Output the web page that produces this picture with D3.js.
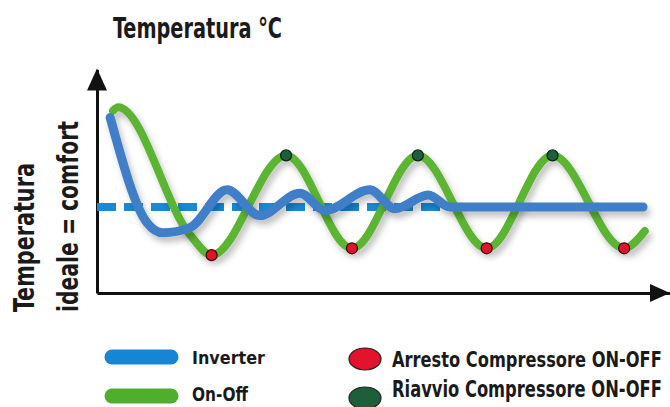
<!DOCTYPE html>
<html>
<head>
<meta charset="utf-8">
<script src="https://cdn.jsdelivr.net/npm/d3@7"></script>
<style>
  body { margin: 0; background: #ffffff; }
  svg { display: block; }
  text { font-family: "DejaVu Sans Condensed", "Liberation Sans Narrow", "DejaVu Sans", sans-serif; font-weight: bold; fill: #1a1a1a; }
</style>
</head>
<body>
<div id="chart"></div>
<script>
// Data (time units, temperature units; comfort level = 5)
var onOffT = [2.8, 3.7, 16.2, 20.0, 33.0, 44.5, 56.0, 68.0, 79.5, 92.0, 95.6];
var onOffV = [10.6, 10.8, 3.4, 2.2, 8.0, 2.6, 8.0, 2.6, 8.0, 2.6, 3.6];
var inverterT = [2.3, 8.7, 11.5, 16.2, 22.7, 28.4, 35.4, 39.8, 47.6, 52.0, 57.8, 61.6, 95.3];
var inverterV = [10.2, 4.1, 3.5, 3.8, 6.0, 4.5, 5.8, 4.8, 6.0, 4.9, 5.7, 5.0, 5.0];
var comfortLevel = 5;
var comfortEnd = 61.6;
var stopIdx = [3, 5, 7, 9];     // Arresto compressore (red)
var restartIdx = [4, 6, 8];     // Riavvio compressore (dark green)
var titleText = "Temperatura °C";
var yLabelLines = ["Temperatura", "ideale = comfort"];
var lineLegend = ["Inverter", "On-Off"];
var dotLegend = ["Arresto Compressore ON-OFF", "Riavvio Compressore ON-OFF"];

var width = 670, height = 407;
var greenColor = '#5cb431';
var blueColor = '#3f7ec7';
var dashColor = '#1a88d5';
var redColor = '#e3132b';
var darkGreenColor = '#1f5e3b';

var xScale = d3.scaleLinear().domain([0, 100]).range([97, 670]);
var yScale = d3.scaleLinear().domain([0, 13]).range([293, 69.4]);

var svg = d3.select("#chart").append("svg")
  .attr("width", width)
  .attr("height", height);

// Put a condensed label at (x,y): font size picked so the width is len,
// then stretched vertically to look like a font of size `size`.
function addLabel(s, x, y, len, size, rotate) {
  var t = svg.append("text").attr("font-size", 20).text(s);
  var w = t.node().getComputedTextLength();
  var fs = 20 * len / w;
  t.attr("font-size", fs);
  var tr = "translate(" + x + "," + y + ")" + (rotate ? "rotate(-90)" : "") + "scale(1," + (size / fs) + ")";
  t.attr("transform", tr);
  return t;
}

// shadow under the curves
var defs = svg.append("defs");
var f = defs.append("filter").attr("id", "shadow")
  .attr("x", "-10%").attr("y", "-10%").attr("width", "130%").attr("height", "140%");
f.append("feDropShadow").attr("dx", 3).attr("dy", 5).attr("stdDeviation", 3)
  .attr("flood-color", "#000").attr("flood-opacity", 0.25);

// axes (no ticks) with arrow heads
var xAxis = d3.axisBottom(xScale).ticks(0).tickSizeOuter(0);
var yAxis = d3.axisLeft(yScale).ticks(0).tickSizeOuter(0);
svg.append("g").attr("transform", "translate(0," + yScale(0) + ")").call(xAxis)
  .select(".domain").attr("stroke", "#111").attr("stroke-width", 3);
svg.append("g").attr("transform", "translate(" + xScale(0) + ",0)").call(yAxis)
  .select(".domain").attr("stroke", "#111").attr("stroke-width", 3);

var xr = xScale.range(), yr = yScale.range();
svg.append("path")
  .attr("d", "M" + (xr[1] - 20) + "," + (yr[0] - 9) + "L" + xr[1] + "," + yr[0] + "L" + (xr[1] - 20) + "," + (yr[0] + 9) + "Z")
  .attr("fill", "#111");
svg.append("path")
  .attr("d", "M" + (xr[0] - 10) + "," + (yr[1] + 21) + "L" + xr[0] + "," + (yr[1] - 1) + "L" + (xr[0] + 10) + "," + (yr[1] + 21) + "Z")
  .attr("fill", "#111");

// comfort dashed line
svg.append("line")
  .attr("x1", xScale(0)).attr("x2", xScale(comfortEnd))
  .attr("y1", yScale(comfortLevel)).attr("y2", yScale(comfortLevel))
  .attr("stroke", dashColor).attr("stroke-width", 8)
  .attr("stroke-dasharray", "19,8");

var line = d3.line()
  .x(function (d) { return xScale(d[0]); })
  .y(function (d) { return yScale(d[1]); })
  .curve(d3.curveMonotoneX);

var onOffData = onOffT.map(function (t, i) { return [t, onOffV[i]]; });
var inverterData = inverterT.map(function (t, i) { return [t, inverterV[i]]; });

svg.append("path").datum(onOffData)
  .attr("d", line)
  .attr("fill", "none").attr("stroke", greenColor).attr("stroke-width", 8)
  .attr("stroke-linecap", "round").attr("filter", "url(#shadow)");

svg.append("path").datum(inverterData)
  .attr("d", line)
  .attr("fill", "none").attr("stroke", blueColor).attr("stroke-width", 9)
  .attr("stroke-linecap", "round").attr("stroke-linejoin", "round")
  .attr("filter", "url(#shadow)");

// compressor markers
svg.selectAll("circle.stop").data(stopIdx).enter().append("circle")
  .attr("class", "stop")
  .attr("cx", function (i) { return xScale(onOffT[i]); })
  .attr("cy", function (i) { return yScale(onOffV[i]); })
  .attr("r", 5.5)
  .attr("fill", redColor).attr("stroke", "#3a0505").attr("stroke-width", 1.2);
svg.selectAll("circle.restart").data(restartIdx).enter().append("circle")
  .attr("class", "restart")
  .attr("cx", function (i) { return xScale(onOffT[i]); })
  .attr("cy", function (i) { return yScale(onOffV[i]); })
  .attr("r", 5.5)
  .attr("fill", darkGreenColor).attr("stroke", "#0c2416").attr("stroke-width", 1.2);

// title
addLabel(titleText, 113, 38, 169, 28, false);

// y label (two rotated lines)
addLabel(yLabelLines[0], 34, 312, 149, 29, true);
addLabel(yLabelLines[1], 78, 312, 191, 29, true);

// legend: lines
var lineLegendColors = ['#1685d3', '#4fae2d'];
var lineLegendY = [357, 396];
var lineLegendText = [{y: 364, size: 18, len: 73}, {y: 401, size: 20, len: 56}];
lineLegend.forEach(function (s, i) {
  svg.append("line")
    .attr("x1", 112).attr("x2", 171)
    .attr("y1", lineLegendY[i]).attr("y2", lineLegendY[i])
    .attr("stroke", lineLegendColors[i]).attr("stroke-width", 15)
    .attr("stroke-linecap", "round");
  addLabel(s, 192, lineLegendText[i].y, lineLegendText[i].len, lineLegendText[i].size, false);
});

// legend: dots
var dotLegendColors = [redColor, darkGreenColor];
var dotLegendY = [359, 398];
var dotLegendText = [{y: 367, size: 22}, {y: 397, size: 23}];
dotLegend.forEach(function (s, i) {
  svg.append("ellipse")
    .attr("cx", 365).attr("cy", dotLegendY[i])
    .attr("rx", 16).attr("ry", 11)
    .attr("fill", dotLegendColors[i]).attr("stroke", "#222").attr("stroke-width", 1.2);
  addLabel(s, 392, dotLegendText[i].y, 270, dotLegendText[i].size, false);
});
</script>
</body>
</html>
